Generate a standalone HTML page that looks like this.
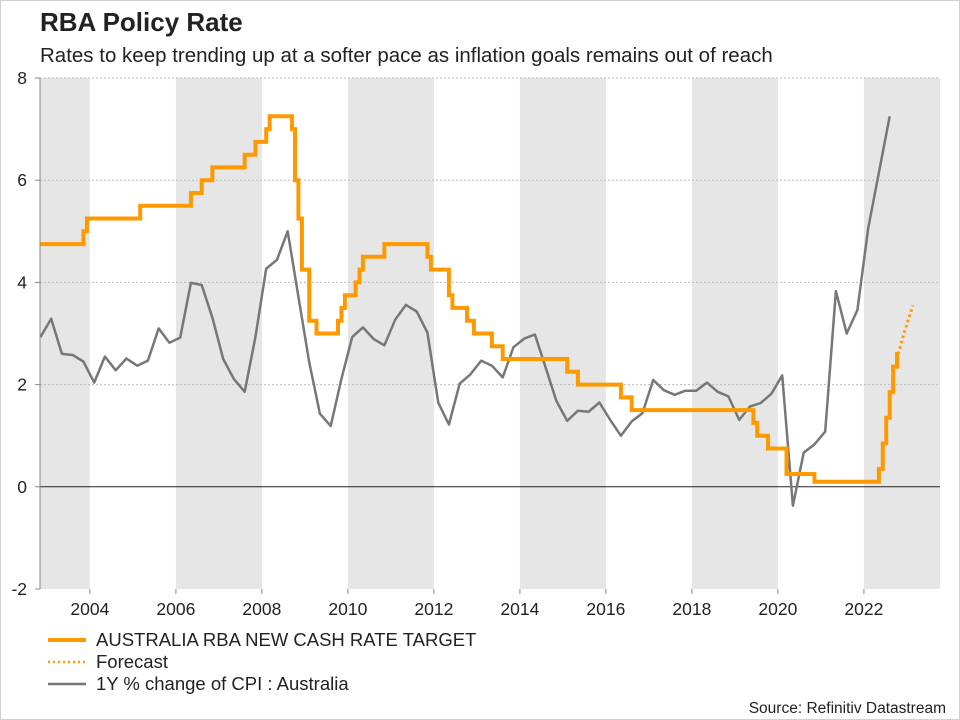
<!DOCTYPE html>
<html><head><meta charset="utf-8"><style>
body{margin:0;background:#fff;}
svg{display:block;font-family:"Liberation Sans",sans-serif;}
</style></head><body>
<svg width="960" height="720" viewBox="0 0 960 720">
<rect x="0.5" y="0.5" width="959" height="719" fill="#fff" stroke="#d0d0d0"/>
<text x="40" y="31" font-size="26" font-weight="bold" fill="#222">RBA Policy Rate</text>
<text x="40" y="62" font-size="20.5" fill="#222">Rates to keep trending up at a softer pace as inflation goals remains out of reach</text>
<g id="bands"></g><g id="grid"></g><g id="axes"></g><g id="series"></g>
<g>
<line x1="48" y1="640" x2="86" y2="640" stroke="#ff9900" stroke-width="4"/>
<text x="96" y="646" font-size="18.5" fill="#222">AUSTRALIA RBA NEW CASH RATE TARGET</text>
<line x1="48" y1="662" x2="86" y2="662" stroke="#ff9900" stroke-width="2.5" stroke-dasharray="2,3"/>
<text x="96" y="668" font-size="18.5" fill="#222">Forecast</text>
<line x1="48" y1="684" x2="86" y2="684" stroke="#777" stroke-width="2.5"/>
<text x="96" y="690" font-size="18.5" fill="#222">1Y % change of CPI : Australia</text>
</g>
<text x="946" y="713" font-size="15.5" fill="#222" text-anchor="end">Source: Refinitiv Datastream</text>
</svg>
<script>
const yTicks=[-2,0,2,4,6,8];
const xTicks=[2004,2006,2008,2010,2012,2014,2016,2018,2020,2022];
const rateDates=[2002.85,2003.85,2003.93,2005.17,2006.35,2006.6,2006.85,2007.6,2007.85,2008.1,2008.18,2008.7,2008.77,2008.85,2008.93,2009.1,2009.27,2009.77,2009.85,2009.93,2010.18,2010.27,2010.35,2010.85,2011.85,2011.93,2012.35,2012.43,2012.77,2012.93,2013.35,2013.6,2015.1,2015.35,2016.35,2016.6,2019.43,2019.52,2019.77,2020.2,2020.85,2022.35,2022.44,2022.52,2022.6,2022.68,2022.77];
const rateValues=[4.75,5.0,5.25,5.5,5.75,6.0,6.25,6.5,6.75,7.0,7.25,7.0,6.0,5.25,4.25,3.25,3.0,3.25,3.5,3.75,4.0,4.25,4.5,4.75,4.5,4.25,3.75,3.5,3.25,3.0,2.75,2.5,2.25,2.0,1.75,1.5,1.25,1.0,0.75,0.25,0.1,0.35,0.85,1.35,1.85,2.35,2.6];
const rateEnd=2022.8;
const forecastDates=[2022.8,2022.95,2023.14];
const forecastValues=[2.6,3.05,3.55];
const cpiStart=2002.85;
const cpiStep=0.25;
const cpiValues=[2.93,3.29,2.6,2.58,2.45,2.04,2.55,2.28,2.51,2.37,2.47,3.1,2.82,2.92,3.99,3.95,3.31,2.5,2.11,1.86,2.93,4.27,4.44,5.0,3.72,2.44,1.43,1.19,2.11,2.93,3.12,2.89,2.77,3.27,3.56,3.43,3.02,1.65,1.22,2.02,2.2,2.47,2.37,2.14,2.73,2.9,2.98,2.33,1.68,1.29,1.49,1.47,1.65,1.31,1.0,1.28,1.44,2.09,1.89,1.8,1.88,1.88,2.04,1.86,1.77,1.31,1.57,1.64,1.82,2.18,-0.37,0.67,0.83,1.08,3.83,3.0,3.46,5.06,6.15,7.25];
const L=40,R=940,T=78,B=589,X0=2002.84,X1=2023.77;
const X=v=>L+(v-X0)/(X1-X0)*(R-L);
const Y=v=>B-(v+2)/10*(B-T);
const NS='http://www.w3.org/2000/svg';
function mk(tag,attrs,parent){const e=document.createElementNS(NS,tag);for(const k in attrs)e.setAttribute(k,attrs[k]);document.getElementById(parent).appendChild(e);return e;}
const bandEdges=[X0,2004,2006,2008,2010,2012,2014,2016,2018,2020,2022,X1];
for(let i=0;i<bandEdges.length-1;i+=2){
 const r=mk('rect',{x:X(bandEdges[i]),y:T,width:X(bandEdges[i+1])-X(bandEdges[i]),height:B-T,fill:'#e6e6e6'},'bands');
 
 
}
yTicks.forEach(t=>{
 if(t!==0&&t!==-2){const g=mk('line',{x1:L,x2:R,y1:Y(t),y2:Y(t),stroke:'#bbb','stroke-dasharray':'2,2'},'grid');
 
 }
 const tk=mk('line',{x1:L-5,x2:L,y1:Y(t),y2:Y(t),stroke:'#888'},'axes');
 
 
 const tx=mk('text',{x:27,y:Y(t)+6,'font-size':17.5,'text-anchor':'end',fill:'#222'},'axes');
 tx.textContent=t;
 
 
});
const zl=mk('line',{x1:L,x2:R,y1:Y(0),y2:Y(0),stroke:'#222','stroke-width':1},'axes');


const ya=mk('line',{x1:L,x2:L,y1:T,y2:B,stroke:'#888'},'axes');


xTicks.forEach(t=>{
 const tk=mk('line',{x1:X(t),x2:X(t),y1:B,y2:B+5,stroke:'#888'},'axes');
 
 
 const tx=mk('text',{x:X(t),y:B+26,'font-size':17.5,'text-anchor':'middle',fill:'#222'},'axes');
 tx.textContent=t;
 
 
});
let d='';cpiValues.forEach((v,i)=>{d+=(i?'L':'M')+X(cpiStart+i*cpiStep).toFixed(1)+','+Y(v).toFixed(1);});
const cp=mk('path',{d:d,fill:'none',stroke:'#777','stroke-width':2.5,'stroke-linejoin':'round'},'series');


let s='M'+X(rateDates[0])+','+Y(rateValues[0]);
for(let i=1;i<rateDates.length;i++){s+='L'+X(rateDates[i]).toFixed(1)+','+Y(rateValues[i-1]).toFixed(1)+'L'+X(rateDates[i]).toFixed(1)+','+Y(rateValues[i]).toFixed(1);}
s+='L'+X(rateEnd).toFixed(1)+','+Y(rateValues[rateValues.length-1]).toFixed(1);
const rp=mk('path',{d:s,fill:'none',stroke:'#ff9900','stroke-width':4,'stroke-linejoin':'miter'},'series');


let f='';forecastDates.forEach((v,i)=>{f+=(i?'L':'M')+X(v).toFixed(1)+','+Y(forecastValues[i]).toFixed(1);});
const fp=mk('path',{d:f,fill:'none',stroke:'#ff9900','stroke-width':3,'stroke-dasharray':'2.5,3'},'series');


</script>
</body></html>
